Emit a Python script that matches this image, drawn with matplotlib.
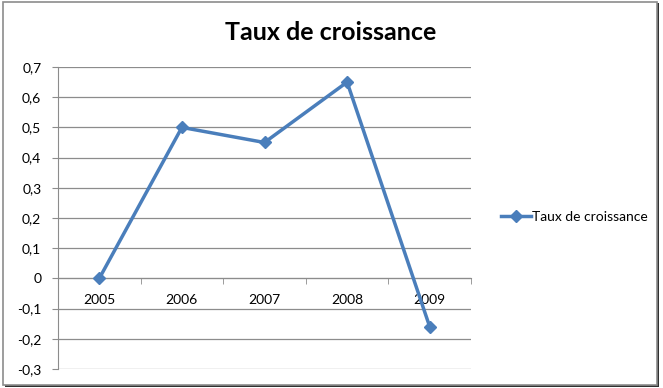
import matplotlib
matplotlib.use("Agg")
import matplotlib.pyplot as plt
from matplotlib.ticker import FuncFormatter, FixedLocator
from matplotlib.patches import Rectangle

years = ["2005", "2006", "2007", "2008", "2009"]
taux = [0.0, 0.5, 0.45, 0.65, -0.16]
series_name = "Taux de croissance"
title = "Taux de croissance"

plt.rcParams['font.family'] = ['Lato', 'DejaVu Sans']

fig = plt.figure(figsize=(6.63, 3.88), dpi=100)
# outer frame with shadow
fig.patches.append(Rectangle((5/663, 1 - 387/388), 654/663, 384/388, transform=fig.transFigure,
                             facecolor='#303030', edgecolor='none', zorder=0))
fig.patches.append(Rectangle((3/663, 1 - 385/388), 654/663, 383/388, transform=fig.transFigure,
                             facecolor='white', edgecolor='#8c8c8c', linewidth=1.2, zorder=1))

ax = fig.add_axes([58/663, 1 - 369/388, 413/663, 302/388])
ax.set_facecolor('none')
ax.set_zorder(2)

x = list(range(len(years)))
line, = ax.plot(x, taux, color='#4A7EBB', linewidth=2.5, marker='D', markersize=6,
                label=series_name, zorder=5, clip_on=False)

ax.set_xlim(-0.5, len(years) - 0.5)
ax.set_ylim(-0.3, 0.7)
yt = [round(-0.3 + 0.1 * i, 1) for i in range(11)]
ax.set_yticks(yt)
ax.yaxis.set_major_formatter(FuncFormatter(lambda v, p: '0' if abs(v) < 1e-9 else f'{v:.1f}'.replace('.', ',')))
ax.grid(axis='y', color='#8c8c8c', linewidth=0.9)
ax.set_axisbelow(True)

for s in ['top', 'right']:
    ax.spines[s].set_visible(False)
ax.spines['left'].set_color('#8c8c8c')
ax.spines['bottom'].set_color('#8c8c8c')
ax.spines['bottom'].set_position(('data', 0))

ax.set_xticks(x)
ax.set_xticklabels(years)
ax.xaxis.set_minor_locator(FixedLocator([i - 0.5 for i in range(len(years) + 1)]))
ax.tick_params(axis='x', which='major', length=0, pad=11, labelsize=10, colors='black')
ax.tick_params(axis='x', which='minor', length=4, color='#8c8c8c', direction='out')
ax.tick_params(axis='y', length=4, color='#8c8c8c', labelsize=10, pad=8)

fig.text(331/663, 1 - 33/388, title, ha='center', va='center', fontsize=18, fontweight='bold')

fig.legend(handles=[line], labels=[series_name], loc='center left',
           bbox_to_anchor=(488/663, 1 - 217/388), frameon=False, fontsize=10,
           handlelength=2.2, handletextpad=0.1)

fig.savefig('out.png', dpi=100)
